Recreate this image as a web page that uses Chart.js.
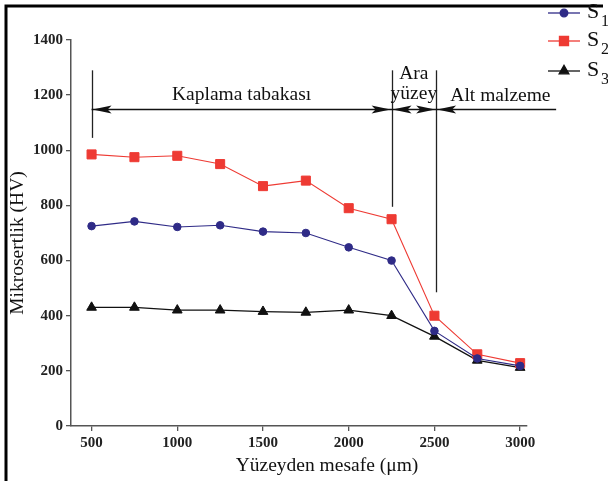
<!DOCTYPE html>
<html>
<head>
<meta charset="utf-8">
<script src="https://cdn.jsdelivr.net/npm/chart.js@4/dist/chart.umd.min.js"></script>
<style>
  html, body { margin: 0; padding: 0; background: #fff; }
  #wrap { width: 608px; height: 481px; position: relative; }
</style>
</head>
<body>
<div id="wrap"><canvas id="c"></canvas></div>
<script>
// distance from surface (um)
const distances = [500, 750, 1000, 1250, 1500, 1750, 2000, 2250, 2500, 2750, 3000];
const s1Values = [725, 742, 722, 728, 705, 700, 648, 600, 345, 245, 218];
const s2Values = [985, 975, 980, 950, 870, 890, 790, 750, 400, 260, 228];
const s3Values = [430, 430, 420, 420, 415, 412, 420, 400, 325, 238, 212];
const xTicks = [500, 1000, 1500, 2000, 2500, 3000];
const yTicks = [0, 200, 400, 600, 800, 1000, 1200, 1400];

// zone annotations, in data units
const zoneBounds = [500, 2250, 2510];
const zoneLineTop = 1290;
const zoneLineBottom = [1045, 795, 485];
const arrowLevel = 1150;
const altArrowEnd = 3210;
const zoneLabels = [
  { text: "Kaplama tabakası", x: 1375, y: 1200 },
  { text: "Ara", x: 2380, y: 1278 },
  { text: "yüzey", x: 2380, y: 1206 },
  { text: "Alt malzeme", x: 2885, y: 1198 },
];

const seriesNames = ["1", "2", "3"];
const seriesColors = ["#2f2b87", "#ee3a33", "#111111"];
const seriesStyles = ["circle", "rect", "triangle"];

const SERIF = "'Liberation Serif', 'Times New Roman', serif";

function xy(values) {
  return distances.map((d, i) => ({ x: d, y: values[i] }));
}

function arrowHead(ctx, x, y, dir) {
  // dir: -1 points left, +1 points right
  ctx.beginPath();
  ctx.moveTo(x, y);
  ctx.lineTo(x - dir * 19, y - 4);
  ctx.lineTo(x - dir * 15, y);
  ctx.lineTo(x - dir * 19, y + 4);
  ctx.closePath();
  ctx.fill();
}

const decor = {
  id: "decor",
  beforeDraw(chart) {
    const ctx = chart.ctx;
    ctx.save();
    ctx.fillStyle = "#fff";
    ctx.fillRect(0, 0, chart.width, chart.height);
    ctx.restore();
  },
  afterDraw(chart) {
    const ctx = chart.ctx;
    const xs = chart.scales.x, ys = chart.scales.y;
    ctx.save();

    // frame (top + left only, as in the scan)
    ctx.strokeStyle = "#000";
    ctx.lineWidth = 3;
    ctx.beginPath();
    ctx.moveTo(603, 6);
    ctx.lineTo(6, 6);
    ctx.lineTo(6, chart.height);
    ctx.stroke();

    // zone boundary lines
    ctx.strokeStyle = "#222";
    ctx.lineWidth = 1.3;
    zoneBounds.forEach((b, i) => {
      const px = Math.round(xs.getPixelForValue(b)) + 0.5;
      ctx.beginPath();
      ctx.moveTo(px, ys.getPixelForValue(zoneLineTop));
      ctx.lineTo(px, ys.getPixelForValue(zoneLineBottom[i]));
      ctx.stroke();
    });

    // arrows
    const ay = Math.round(ys.getPixelForValue(arrowLevel)) + 0.5;
    const b0 = xs.getPixelForValue(zoneBounds[0]);
    const b1 = xs.getPixelForValue(zoneBounds[1]);
    const b2 = xs.getPixelForValue(zoneBounds[2]);
    const bEnd = xs.getPixelForValue(altArrowEnd);
    ctx.strokeStyle = "#111";
    ctx.fillStyle = "#111";
    ctx.lineWidth = 1.5;
    ctx.beginPath();
    ctx.moveTo(b0, ay); ctx.lineTo(b1, ay);
    ctx.moveTo(b1, ay); ctx.lineTo(b2, ay);
    ctx.moveTo(b2, ay); ctx.lineTo(bEnd, ay);
    ctx.stroke();
    arrowHead(ctx, b0 + 1, ay, -1);
    arrowHead(ctx, b1 - 1, ay, 1);
    arrowHead(ctx, b1 + 1, ay, -1);
    arrowHead(ctx, b2 - 1, ay, 1);
    arrowHead(ctx, b2 + 1, ay, -1);

    // zone labels
    ctx.fillStyle = "#111";
    ctx.font = "19.5px " + SERIF;
    ctx.textAlign = "center";
    ctx.textBaseline = "middle";
    zoneLabels.forEach(l => {
      ctx.fillText(l.text, xs.getPixelForValue(l.x), ys.getPixelForValue(l.y));
    });

    // axis titles
    ctx.fillText("Yüzeyden mesafe (μm)", 327, 466);
    ctx.save();
    ctx.translate(18, 243);
    ctx.rotate(-Math.PI / 2);
    ctx.fillText("Mikrosertlik (HV)", 0, 0);
    ctx.restore();

    // legend
    const rows = [13, 41, 71];
    chart.data.datasets.forEach((ds, i) => {
      const y = rows[i];
      ctx.strokeStyle = ds.borderColor;
      ctx.lineWidth = 1.3;
      ctx.beginPath();
      ctx.moveTo(548, y); ctx.lineTo(580, y);
      ctx.stroke();
      ctx.fillStyle = ds.pointBackgroundColor;
      ctx.strokeStyle = ds.pointBackgroundColor;
      Chart.helpers.drawPoint(ctx, { pointStyle: ds.pointStyle, radius: ds.pointRadius, borderWidth: 1 }, 564, y);
      ctx.fillStyle = "#111";
      ctx.textAlign = "left";
      ctx.font = "22px " + SERIF;
      ctx.fillText("S", 587, y - 1);
      ctx.font = "16px " + SERIF;
      ctx.fillText(seriesNames[i], 601, y + 9);
    });

    ctx.restore();
  }
};

function makeSet(values, i, radius) {
  return {
    label: "S" + seriesNames[i],
    data: xy(values),
    borderColor: seriesColors[i],
    backgroundColor: seriesColors[i],
    pointBackgroundColor: seriesColors[i],
    pointBorderColor: seriesColors[i],
    pointStyle: seriesStyles[i],
    pointRadius: radius,
    pointBorderWidth: 1,
    borderWidth: i === 2 ? 1.3 : 1.1,
  };
}

const axisColor = "#555";
const tickFont = { family: SERIF, size: 15, weight: "bold" };

new Chart(document.getElementById("c"), {
  type: "line",
  data: {
    datasets: [
      makeSet(s1Values, 0, 3.8),
      makeSet(s2Values, 1, 6.4),
      makeSet(s3Values, 2, 5.6),
    ],
  },
  options: {
    responsive: true,
    maintainAspectRatio: false,
    animation: false,
    layout: { padding: { left: 5, top: 40, right: 81, bottom: 0 } },
    plugins: { legend: { display: false }, tooltip: { enabled: false } },
    scales: {
      x: {
        type: "linear",
        min: 380,
        max: 3040,
        afterBuildTicks: s => { s.ticks = xTicks.map(v => ({ value: v })); },
        afterFit: s => { s.height = 55; },
        grid: { display: true, drawOnChartArea: false, drawTicks: true, tickLength: 5, color: axisColor, lineWidth: 1.3 },
        border: { display: true, color: axisColor, width: 1.5 },
        ticks: { color: "#222", padding: 3, maxRotation: 0, font: tickFont, callback: v => String(v) },
      },
      y: {
        min: 0,
        max: 1400,
        afterBuildTicks: s => { s.ticks = yTicks.map(v => ({ value: v })); },
        afterFit: s => { s.width = 66; },
        grid: { display: true, drawOnChartArea: false, drawTicks: true, tickLength: 5, color: axisColor, lineWidth: 1.3 },
        border: { display: true, color: axisColor, width: 1.5 },
        ticks: { color: "#222", padding: 3, font: tickFont, callback: v => String(v) },
      },
    },
  },
  plugins: [decor],
});
</script>
</body>
</html>
